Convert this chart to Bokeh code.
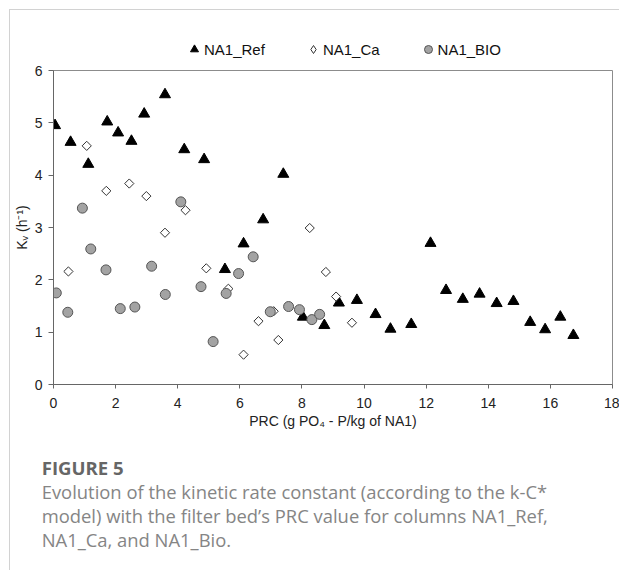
import numpy as np
from bokeh.plotting import figure
from bokeh.layouts import column
from bokeh.models import Range1d, FixedTicker, Legend, LegendItem, Div
from bokeh.embed import file_html
from bokeh.resources import INLINE

# ---- data ----
ref_x = [0.05, 0.55, 1.12, 1.73, 2.08, 2.51, 2.92, 3.59, 4.21, 4.85, 5.52, 6.12, 6.75, 7.40,
         8.03, 8.72, 9.19, 9.77, 10.37, 10.85, 11.52, 12.14, 12.64, 13.18, 13.72, 14.27,
         14.81, 15.35, 15.83, 16.32, 16.74]
ref_y = [4.95, 4.63, 4.21, 5.02, 4.81, 4.65, 5.17, 5.54, 4.49, 4.30, 2.20, 2.69, 3.15, 4.02,
         1.29, 1.13, 1.56, 1.61, 1.34, 1.06, 1.15, 2.70, 1.80, 1.63, 1.73, 1.55,
         1.59, 1.19, 1.05, 1.29, 0.94]

ca_x = [0.48, 1.07, 1.70, 2.44, 2.99, 3.59, 4.25, 4.92, 5.63, 6.12, 6.60, 7.09, 7.24, 8.25,
        8.77, 9.10, 9.61]
ca_y = [2.16, 4.56, 3.70, 3.84, 3.60, 2.90, 3.33, 2.22, 1.83, 0.57, 1.21, 1.40, 0.85, 2.99,
        2.15, 1.68, 1.18]

bio_x = [0.09, 0.46, 0.93, 1.20, 1.69, 2.15, 2.62, 3.16, 3.60, 4.10, 4.75, 5.14, 5.56, 5.96,
         6.43, 6.98, 7.57, 7.92, 8.32, 8.57]
bio_y = [1.75, 1.38, 3.37, 2.59, 2.19, 1.45, 1.48, 2.26, 1.72, 3.49, 1.87, 0.82, 1.74, 2.12,
         2.44, 1.39, 1.49, 1.43, 1.24, 1.34]

series_labels = ["NA1_Ref", "NA1_Ca", "NA1_BIO"]
x_ticks = [0, 2, 4, 6, 8, 10, 12, 14, 16, 18]
y_ticks = [0, 1, 2, 3, 4, 5, 6]
x_title = "PRC (g PO\u2084 - P/kg of NA1)"
y_title = "K\u1d65 (h\u207b\u00b9)"
caption_head = "FIGURE 5"
caption_lines = [
    "Evolution of the kinetic rate constant (according to the k-C*",
    "model) with the filter bed\u2019s PRC value for columns NA1_Ref,",
    "NA1_Ca, and NA1_Bio.",
]

FONT = "Liberation Sans"
CAP_FONT = "Open Sans"

REF_STYLE = dict(marker="triangle", fill_color="black", line_color="black", line_width=1)
CA_STYLE = dict(fill_color="white", line_color="#333333", line_width=1)
BIO_STYLE = dict(marker="circle", fill_color="#a3a3a3", line_color="#555555", line_width=1)


def bare(fig):
    fig.outline_line_color = None
    fig.grid.visible = False
    fig.background_fill_color = "white"
    fig.border_fill_color = "white"


# ---------------- legend strip ----------------
leg = figure(width=609, height=52, output_backend="svg", toolbar_location=None,
             x_range=Range1d(0, 18), y_range=Range1d(0, 6),
             x_axis_location=None, y_axis_location=None,
             min_border_left=0, min_border_right=0, min_border_top=0, min_border_bottom=0)
bare(leg)
k_ref = leg.scatter(ref_x, ref_y, size=8, **REF_STYLE)
k_ca = leg.scatter(ca_x, ca_y, marker="diamond", size=8, **CA_STYLE)
k_bio = leg.scatter(bio_x, bio_y, size=8, **BIO_STYLE)
for r in (k_ref, k_ca, k_bio):
    r.visible = False
legend = Legend(items=[LegendItem(label=series_labels[0], renderers=[k_ref]),
                       LegendItem(label=series_labels[1], renderers=[k_ca]),
                       LegendItem(label=series_labels[2], renderers=[k_bio])],
                location=(131, 3), orientation="horizontal",
                glyph_width=20, glyph_height=20, label_height=20, label_width=10,
                label_standoff=0, padding=0, margin=0, spacing=38,
                border_line_color=None, background_fill_alpha=0,
                inactive_fill_alpha=0,
                label_text_font=FONT, label_text_font_size="15px",
                label_text_color="#111111")
leg.add_layout(legend, "center")

# ---------------- main chart ----------------
p = figure(width=609, height=378, output_backend="svg", toolbar_location=None,
           x_range=Range1d(0, 18), y_range=Range1d(0, 6),
           min_border_left=43, min_border_right=7, min_border_top=8, min_border_bottom=56)
p.background_fill_color = "white"
p.border_fill_color = "white"
p.xgrid.visible = False
p.ygrid.visible = False
p.outline_line_color = "#8c8c8c"
p.outline_line_width = 1

p.xaxis.ticker = FixedTicker(ticks=x_ticks)
p.yaxis.ticker = FixedTicker(ticks=y_ticks)
for ax in (p.xaxis[0], p.yaxis[0]):
    ax.axis_line_color = "#666666"
    ax.major_tick_line_color = "#666666"
    ax.minor_tick_line_color = None
    ax.major_tick_in = 0
    ax.major_label_text_font = FONT
    ax.major_label_text_font_size = "14px"
    ax.major_label_text_color = "#222222"
    ax.axis_label_text_font = FONT
    ax.axis_label_text_font_size = "14px"
    ax.axis_label_text_font_style = "normal"
    ax.axis_label_text_color = "#222222"
p.xaxis.major_tick_out = 4
p.yaxis.major_tick_out = 5
p.xaxis.major_label_standoff = 9
p.yaxis.major_label_standoff = 6
p.xaxis.axis_label = x_title
p.yaxis.axis_label = y_title
p.xaxis.axis_label_standoff = 2
p.yaxis.axis_label_standoff = 2

p.scatter(ref_x, ref_y, size=11, **REF_STYLE)
p.scatter(ca_x, ca_y, marker="square", angle=np.pi / 4, size=6.5, **CA_STYLE)
p.scatter(bio_x, bio_y, size=10, **BIO_STYLE)

# ---------------- caption ----------------
head_html = (f'<div style="font-family:\'{CAP_FONT}\';font-weight:bold;font-size:18.6px;'
             f'line-height:24px;color:#666666;white-space:nowrap;">{caption_head}</div>')
body_html = (f'<div style="font-family:\'{CAP_FONT}\';font-weight:normal;font-size:18.4px;'
             f'line-height:24px;color:#858585;white-space:nowrap;">'
             + "<br>".join(caption_lines) + '</div>')
cap = Div(text=head_html + body_html, width=609, height=130,
          styles={"padding-left": "31.7px", "padding-top": "16.3px",
                  "box-sizing": "border-box", "margin": "0", "background": "white"})

page = column(leg, p, cap, spacing=0,
              styles={"margin-left": "9px", "margin-top": "9px",
                      "border-left": "1px solid #d2d2d2",
                      "border-top": "1px solid #d2d2d2"})

open("out.html", "w").write(file_html(page, INLINE))
